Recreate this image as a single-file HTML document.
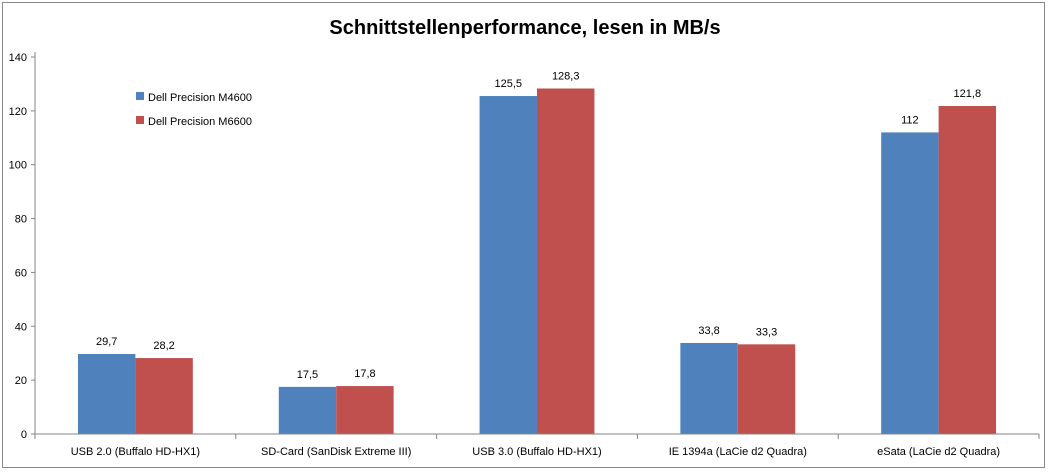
<!DOCTYPE html>
<html><head><meta charset="utf-8"><style>
body{margin:0;background:#fff;font-family:"Liberation Sans",sans-serif}
svg text{font-family:"Liberation Sans",sans-serif}
</style></head><body>
<svg width="1048" height="470">
<rect x="2.5" y="2.5" width="1042" height="465" fill="#fff" stroke="#888"/>
<text x="525" y="34" text-anchor="middle" font-size="20" font-weight="bold" fill="#000">Schnittstellenperformance, lesen in MB/s</text>
<g id="plot"></g>
<g>
<rect x="136" y="92" width="8" height="8" fill="#4f81bd"/>
<text x="148" y="101" font-size="11">Dell Precision M4600</text>
<rect x="136" y="116" width="8" height="8" fill="#c0504d"/>
<text x="148" y="125" font-size="11">Dell Precision M6600</text>
</g>
</svg>
<script>
const categories=["USB 2.0 (Buffalo HD-HX1)","SD-Card (SanDisk Extreme III)","USB 3.0 (Buffalo HD-HX1)","IE 1394a (LaCie d2 Quadra)","eSata (LaCie d2 Quadra)"];
const seriesM4600=[29.7,17.5,125.5,33.8,112];
const seriesM6600=[28.2,17.8,128.3,33.3,121.8];
const yTicks=[0,20,40,60,80,100,120,140];
const ns="http://www.w3.org/2000/svg";
const g=document.getElementById('plot');
const X0=35,X1=1039,Y0=434,Y1=57,YMAX=140;
const cw=(X1-X0)/categories.length;
const bw=cw*0.286;
const y=v=>Y0-(v/YMAX)*(Y0-Y1);
function el(t,a){const e=document.createElementNS(ns,t);for(const k in a)e.setAttribute(k,a[k]);g.appendChild(e);return e;}
const fmt=v=>String(v).replace('.',',');
yTicks.forEach(t=>{
 const l=el('line',{x1:X0-4,x2:X0,y1:y(t),y2:y(t),stroke:'#868686'});
 
 
 const tx=el('text',{x:X0-8,y:y(t)+4,'text-anchor':'end','font-size':11});
 tx.textContent=t;
 
 
});
[[seriesM4600,'#4f81bd',0,'m4600'],[seriesM6600,'#c0504d',1,'m6600']].forEach(([s,c,i,n])=>{
 s.forEach((v,j)=>{
  const x=X0+j*cw+(cw-2*bw)/2+i*bw;
  const r=el('rect',{x:x,y:y(v),width:bw,height:Y0-y(v),fill:c});
  
  
  const t=el('text',{x:x+bw/2,y:y(v)-9,'text-anchor':'middle','font-size':11});
  t.textContent=fmt(v);
  
  
 });
});
categories.forEach((c,j)=>{
 const t=el('text',{x:X0+(j+0.5)*cw,y:Y0+21,'text-anchor':'middle','font-size':11});
 t.textContent=c;
 
 
});
for(let j=0;j<=categories.length;j++){
 const l=el('line',{x1:X0+j*cw,x2:X0+j*cw,y1:Y0,y2:Y0+5,stroke:'#868686'});
 
 
}
const ya=el('line',{x1:X0,x2:X0,y1:Y1-5,y2:Y0,stroke:'#868686'});


const xa=el('line',{x1:X0,x2:X1,y1:Y0,y2:Y0,stroke:'#868686'});


</script>
</body></html>
